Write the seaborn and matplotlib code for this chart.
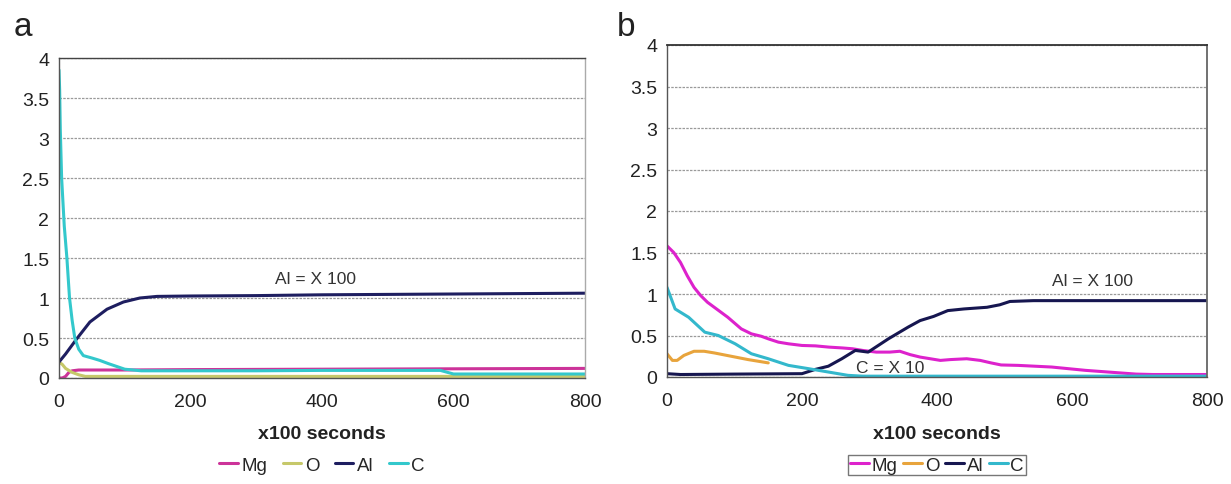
import numpy as np
import pandas as pd
import matplotlib
matplotlib.use("Agg")
import matplotlib.pyplot as plt
import seaborn as sns

# ---------------- data: panel a ----------------
a_mg_x = [0, 5, 10, 15, 20, 30, 50, 100, 200, 400, 600, 800]
a_mg_y = [0.0, 0.0, 0.02, 0.07, 0.09, 0.10, 0.10, 0.10, 0.105, 0.11, 0.115, 0.12]

a_o_x = [0, 5, 10, 20, 30, 40, 60, 100, 200, 400, 600, 800]
a_o_y = [0.20, 0.17, 0.12, 0.07, 0.04, 0.02, 0.02, 0.02, 0.02, 0.02, 0.02, 0.02]

a_al_x = [0, 10, 27, 47, 73, 98, 123, 149, 200, 300, 400, 500, 600, 700, 800]
a_al_y = [0.20, 0.30, 0.49, 0.70, 0.86, 0.95, 1.00, 1.02, 1.025, 1.03, 1.04, 1.045, 1.05, 1.055, 1.06]

a_c_x = [0, 1, 2, 4, 8, 12, 16, 20, 24, 30, 37, 50, 62, 75, 100, 125, 150, 200, 300, 400, 500, 580, 600, 700, 800]
a_c_y = [3.85, 3.6, 3.1, 2.5, 1.9, 1.5, 1.0, 0.72, 0.5, 0.36, 0.28, 0.25, 0.22, 0.18, 0.11, 0.09, 0.09, 0.09, 0.09, 0.095, 0.095, 0.095, 0.05, 0.05, 0.05]

# ---------------- data: panel b ----------------
b_mg_x = [0, 10, 20, 30, 40, 50, 60, 70, 80, 90, 100, 110, 125, 140, 150, 165, 180, 200, 220, 240,
          260, 275, 290, 310, 330, 345, 360, 375, 390, 405, 420, 444, 464, 480, 495, 520, 545, 570,
          595, 620, 645, 670, 695, 720, 800]
b_mg_y = [1.58, 1.50, 1.38, 1.22, 1.08, 0.98, 0.90, 0.84, 0.78, 0.72, 0.65, 0.58, 0.52, 0.49, 0.46,
          0.42, 0.40, 0.38, 0.375, 0.36, 0.35, 0.34, 0.32, 0.30, 0.30, 0.31, 0.27, 0.24, 0.22, 0.20,
          0.21, 0.22, 0.20, 0.17, 0.145, 0.14, 0.13, 0.12, 0.10, 0.08, 0.065, 0.05, 0.035, 0.03, 0.03]

b_o_x = [0, 8, 15, 25, 40, 55, 70, 95, 120, 150]
b_o_y = [0.28, 0.20, 0.20, 0.26, 0.31, 0.31, 0.29, 0.25, 0.21, 0.17]

b_al_x = [0, 20, 100, 200, 219, 239, 259, 279, 298, 328, 357, 375, 395, 416, 440, 474, 493, 508, 543, 600, 700, 800]
b_al_y = [0.04, 0.03, 0.035, 0.04, 0.09, 0.13, 0.22, 0.32, 0.30, 0.46, 0.60, 0.68, 0.73, 0.80, 0.82, 0.84, 0.87, 0.91, 0.92, 0.92, 0.92, 0.92]

b_c_x = [0, 12, 32, 56, 76, 101, 125, 150, 180, 210, 239, 268, 290, 350, 500, 800]
b_c_y = [1.08, 0.82, 0.72, 0.54, 0.50, 0.40, 0.28, 0.22, 0.14, 0.10, 0.06, 0.02, 0.01, 0.01, 0.01, 0.01]

x_ticks = [0, 200, 400, 600, 800]
y_ticks = [0, 0.5, 1, 1.5, 2, 2.5, 3, 3.5, 4]
y_tick_labels = ["0", "0.5", "1", "1.5", "2", "2.5", "3", "3.5", "4"]
series_names = ["Mg", "O", "Al", "C"]

colors_a = {"Mg": "#cc3399", "O": "#c6c86a", "Al": "#1e1e60", "C": "#33c8cc"}
colors_b = {"Mg": "#dd22cc", "O": "#e8a43c", "Al": "#161650", "C": "#33b8cc"}

sns.set_theme(style="white")
plt.rcParams["font.family"] = ["Liberation Sans", "DejaVu Sans"]

W, H = 1231, 485
fig = plt.figure(figsize=(W / 100, H / 100), dpi=100)

ax_a = fig.add_axes([59 / W, 1 - 379 / H, (585 - 59) / W, (379 - 59) / H])
ax_b = fig.add_axes([667 / W, 1 - 378 / H, (1207 - 667) / W, (378 - 46) / H])

panels = [
    (ax_a, colors_a, {"Mg": (a_mg_x, a_mg_y), "O": (a_o_x, a_o_y), "Al": (a_al_x, a_al_y), "C": (a_c_x, a_c_y)}),
    (ax_b, colors_b, {"Mg": (b_mg_x, b_mg_y), "O": (b_o_x, b_o_y), "Al": (b_al_x, b_al_y), "C": (b_c_x, b_c_y)}),
]

for ax, cols, data in panels:
    for name in series_names:
        xs, ys = data[name]
        df = pd.DataFrame({"t": xs, "v": ys})
        sns.lineplot(data=df, x="t", y="v", ax=ax, color=cols[name], linewidth=2.2,
                     label=name, estimator=None, sort=False)
    ax.set_xlim(0, 800)
    ax.set_ylim(0, 4)
    ax.set_xticks(x_ticks)
    ax.set_xticklabels([str(t) for t in x_ticks])
    ax.set_yticks(y_ticks)
    ax.set_yticklabels(y_tick_labels)
    ax.grid(axis="y", color="#9a9a9a", linestyle=(0, (2, 1)), linewidth=0.9)
    ax.set_axisbelow(True)
    ax.tick_params(axis="x", direction="out", length=4, width=0.8, color="#777777",
                   labelsize=14, pad=7, labelcolor="#222222")
    ax.tick_params(axis="y", direction="out", length=4, width=0.8, color="#777777",
                   labelsize=14, pad=3, labelcolor="#222222")
    for side in ["left", "bottom"]:
        ax.spines[side].set_color("#555555")
        ax.spines[side].set_linewidth(1.0)
    ax.set_xlabel("x100 seconds", fontsize=14, fontweight="bold", color="#222222")
    ax.set_ylabel("")

# panel a frame
ax_a.spines["top"].set_color("#444444")
ax_a.spines["top"].set_linewidth(1.0)
ax_a.spines["right"].set_color("#aaaaaa")
ax_a.spines["right"].set_linewidth(1.0)
# panel b frame
ax_b.spines["top"].set_color("#333333")
ax_b.spines["top"].set_linewidth(1.3)
ax_b.spines["right"].set_color("#666666")
ax_b.spines["right"].set_linewidth(1.3)

ax_a.xaxis.set_label_coords(0.5, (379 - 426) / 320)
ax_b.xaxis.set_label_coords(0.5, (378 - 426) / 332)

ax_a.legend(loc="center", bbox_to_anchor=(0.5, (379 - 466) / 320), ncol=4, frameon=False,
            handlelength=1.0, handletextpad=0.2, columnspacing=0.8, fontsize=13.5)
leg_b = ax_b.legend(loc="center", bbox_to_anchor=(0.5, (378 - 466) / 332), ncol=4, frameon=True,
                    handlelength=1.0, handletextpad=0.15, columnspacing=0.3, fontsize=13.5,
                    fancybox=False, borderpad=0.1, borderaxespad=0)
leg_b.get_frame().set_edgecolor("#555555")
leg_b.get_frame().set_linewidth(1.0)

ax_a.text(390, 1.25, "Al = X 100", ha="center", va="center", fontsize=12.5, color="#333333")
ax_b.text(630, 1.16, "Al = X 100", ha="center", va="center", fontsize=12.5, color="#333333")
ax_b.text(330, 0.12, "C = X 10", ha="center", va="center", fontsize=12.5, color="#333333")

fig.text(23 / W, 1 - 27 / H, "a", fontsize=24, ha="center", va="center", color="#222222")
fig.text(626 / W, 1 - 27 / H, "b", fontsize=24, ha="center", va="center", color="#222222")

fig.savefig("out.png", dpi=100)
